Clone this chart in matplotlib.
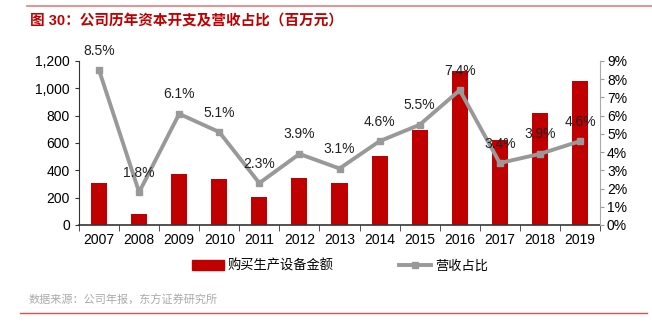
import matplotlib.pyplot as plt
import matplotlib.lines as mlines
import numpy as np
from matplotlib.ticker import FuncFormatter, FixedLocator

plt.rcParams['font.family'] = ['Liberation Sans', 'Noto Sans CJK SC', 'DejaVu Sans']

years = ['2007', '2008', '2009', '2010', '2011', '2012', '2013',
         '2014', '2015', '2016', '2017', '2018', '2019']
capex = [308, 83, 371, 340, 208, 345, 308, 508, 694, 1124, 621, 816, 1051]
ratio = [8.5, 1.8, 6.1, 5.1, 2.3, 3.9, 3.1, 4.6, 5.5, 7.4, 3.4, 3.9, 4.6]

red = '#C00000'
gray = '#999999'

fig = plt.figure(figsize=(6.52, 3.25), dpi=100)
ax = fig.add_axes([79/652, 1-225/325, (600-79)/652, (225-61)/325])
x = np.arange(len(years))
ax.bar(x, capex, width=0.4, color=red, zorder=2)
ax.set_xlim(-0.5, len(years)-0.5)
ax.set_ylim(0, 1200)
ax.set_yticks(range(0, 1201, 200))
ax.yaxis.set_major_formatter(FuncFormatter(lambda v, p: f'{int(v):,}'))
ax.set_xticks(x)
ax.set_xticklabels(years)
ax.xaxis.set_minor_locator(FixedLocator(np.arange(-0.5, len(years), 1)))
ax.tick_params(axis='x', which='major', length=0, labelsize=10, pad=6)
ax.tick_params(axis='x', which='minor', length=4, direction='out', color='#333333')
ax.tick_params(axis='y', length=3, labelsize=10, color='#333333')
for s in ['top', 'right']:
    ax.spines[s].set_visible(False)
ax.spines['left'].set_color('#333333')
ax.spines['bottom'].set_color('#333333')
ax.spines['bottom'].set_linewidth(1.2)

ax2 = ax.twinx()
ax2.plot(x, ratio, color=gray, linewidth=2.8, marker='s', markersize=4, zorder=3)
ax2.set_ylim(0, 9)
ax2.set_yticks(range(0, 10))
ax2.yaxis.set_major_formatter(FuncFormatter(lambda v, p: f'{int(v)}%'))
ax2.tick_params(axis='y', length=3, labelsize=10, color=gray, pad=2)
for s in ['top', 'left', 'bottom']:
    ax2.spines[s].set_visible(False)
ax2.spines['right'].set_color('#aaaaaa')
for xi, r in zip(x, ratio):
    ax2.annotate(f'{r}%', (xi, r), xytext=(0, 9), textcoords='offset points',
                 ha='center', va='bottom', fontsize=10, color='#222222')

# legend
h1 = plt.Rectangle((0, 0), 1, 1, color=red)
h2 = mlines.Line2D([], [], color=gray, linewidth=2.8, marker='s', markersize=4)
fig.legend([h1, h2], ['购买生产设备金额', '营收占比'], loc='center',
           bbox_to_anchor=(340/652, 1-266/325), ncol=2, frameon=False,
           fontsize=9.5, columnspacing=5, handlelength=2.4, handletextpad=0.3)

# title, source and rules
fig.text(30/652, 1-21/325, '图 30：公司历年资本开支及营收占比（百万元）', color=red,
         fontsize=10.5, fontweight='bold', va='center', ha='left')
fig.add_artist(mlines.Line2D([27/652, 1], [1-5.5/325, 1-5.5/325], color='#E57F7F', linewidth=1.2))
fig.text(29/652, 1-300/325, '数据来源：公司年报，东方证券研究所', color='#aaaaaa',
         fontsize=8, va='center', ha='left')
fig.add_artist(mlines.Line2D([20/652, 647/652], [1-313/325, 1-313/325], color='#E05050', linewidth=1.0))

fig.savefig('out.png', dpi=100)
